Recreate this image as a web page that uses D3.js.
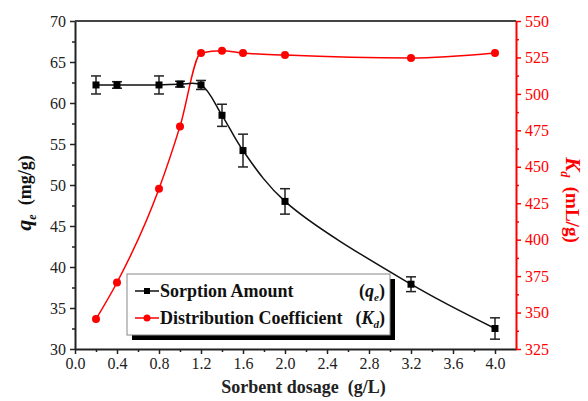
<!DOCTYPE html>
<html>
<head>
<meta charset="utf-8">
<script src="https://cdn.jsdelivr.net/npm/d3@7"></script>
<style>
  body { margin: 0; background: #fff; }
</style>
</head>
<body>
<script>
// data
var dosage = [0.2, 0.4, 0.8, 1.0, 1.2, 1.4, 1.6, 2.0, 3.2, 4.0];
var qe = [62.2, 62.2, 62.2, 62.3, 62.2, 58.5, 54.2, 48.0, 37.9, 32.5];
var qeErr = [1.1, 0.4, 1.1, 0.35, 0.55, 1.35, 2.0, 1.55, 0.9, 1.3];
var kd = [345.5, 370.6, 434.9, 477.7, 528.0, 529.6, 528.0, 526.6, 524.6, 528.0];
var xTicks = [0.0, 0.4, 0.8, 1.2, 1.6, 2.0, 2.4, 2.8, 3.2, 3.6, 4.0];
var leftTicks = [30, 35, 40, 45, 50, 55, 60, 65, 70];
var rightTicks = [325, 350, 375, 400, 425, 450, 475, 500, 525, 550];

var width = 588, height = 401;
var margin = {left: 75, right: 72, top: 21, bottom: 52};
var red = '#ff0000';
var serif = '"Liberation Serif", "Times New Roman", Times, Tinos, "DejaVu Serif", "Noto Serif", FreeSerif, serif';

var svg = d3.select('body').append('svg').attr('width', width).attr('height', height)
  .attr('font-family', serif);

var x = d3.scaleLinear().domain([0, 4.2]).range([margin.left, width - margin.right]);
var yL = d3.scaleLinear().domain([30, 70]).range([height - margin.bottom, margin.top]);
var yR = d3.scaleLinear().domain([325, 550]).range([height - margin.bottom, margin.top]);

var x0 = margin.left, x1 = width - margin.right, y0 = height - margin.bottom, y1 = margin.top;

// minor ticks
function minor(g, color) {
  g.select('.domain').remove();
  g.selectAll('line').attr('stroke', color).attr('stroke-width', 1.5);
}
svg.append('g').attr('transform', 'translate(0,' + y0 + ')')
  .call(d3.axisBottom(x).tickValues(d3.range(0.2, 4.2, 0.4)).tickSize(3).tickFormat(''))
  .call(minor, '#222');
svg.append('g').attr('transform', 'translate(' + x0 + ',0)')
  .call(d3.axisLeft(yL).tickValues(d3.range(32.5, 70, 5)).tickSize(3).tickFormat(''))
  .call(minor, '#222');
svg.append('g').attr('transform', 'translate(' + x1 + ',0)')
  .call(d3.axisRight(yR).tickValues(d3.range(337.5, 550, 25)).tickSize(3).tickFormat(''))
  .call(minor, red);

// major axes
function major(g, color) {
  g.attr('font-family', serif);
  g.select('.domain').attr('stroke', color).attr('stroke-width', 2);
  g.selectAll('.tick line').attr('stroke', color).attr('stroke-width', 1.5);
  g.selectAll('text').attr('font-size', 16).attr('fill', color === red ? red : '#222');
}
svg.append('g').attr('transform', 'translate(0,' + y0 + ')')
  .call(d3.axisBottom(x).tickValues(xTicks).tickSize(5).tickSizeOuter(0).tickPadding(4).tickFormat(d3.format('.1f')))
  .call(major, '#222');
svg.append('g').attr('transform', 'translate(' + x0 + ',0)')
  .call(d3.axisLeft(yL).tickValues(leftTicks).tickSize(5).tickSizeOuter(0).tickPadding(4))
  .call(major, '#222');
svg.append('g').attr('transform', 'translate(' + x1 + ',0)')
  .call(d3.axisRight(yR).tickValues(rightTicks).tickSize(5).tickSizeOuter(0).tickPadding(4))
  .call(major, red);

// top border
svg.append('line').attr('x1', x0).attr('x2', x1).attr('y1', y1).attr('y2', y1)
  .attr('stroke', '#444').attr('stroke-width', 2);

// Kd curve
var kdPts = dosage.map(function (d, i) { return [d, kd[i]]; });
svg.append('path').datum(kdPts)
  .attr('d', d3.line().x(function (d) { return x(d[0]); }).y(function (d) { return yR(d[1]); }).curve(d3.curveMonotoneX))
  .attr('fill', 'none').attr('stroke', red).attr('stroke-width', 1.5);
svg.selectAll('.kd').data(kdPts).enter().append('circle')
  .attr('cx', function (d) { return x(d[0]); })
  .attr('cy', function (d) { return yR(d[1]); })
  .attr('r', 4).attr('fill', red);

// qe curve
var qePts = dosage.map(function (d, i) { return [d, qe[i], qeErr[i]]; });
svg.append('path').datum(qePts)
  .attr('d', d3.line().x(function (d) { return x(d[0]); }).y(function (d) { return yL(d[1]); }).curve(d3.curveCatmullRom.alpha(0.5)))
  .attr('fill', 'none').attr('stroke', '#111').attr('stroke-width', 1.5);

var eb = svg.selectAll('.eb').data(qePts).enter().append('g').attr('stroke', '#222').attr('stroke-width', 1.5);
eb.append('line')
  .attr('x1', function (d) { return x(d[0]); }).attr('x2', function (d) { return x(d[0]); })
  .attr('y1', function (d) { return yL(d[1] - d[2]); }).attr('y2', function (d) { return yL(d[1] + d[2]); });
eb.append('line')
  .attr('x1', function (d) { return x(d[0]) - 5; }).attr('x2', function (d) { return x(d[0]) + 5; })
  .attr('y1', function (d) { return yL(d[1] - d[2]); }).attr('y2', function (d) { return yL(d[1] - d[2]); });
eb.append('line')
  .attr('x1', function (d) { return x(d[0]) - 5; }).attr('x2', function (d) { return x(d[0]) + 5; })
  .attr('y1', function (d) { return yL(d[1] + d[2]); }).attr('y2', function (d) { return yL(d[1] + d[2]); });
svg.selectAll('.qe').data(qePts).enter().append('rect')
  .attr('x', function (d) { return x(d[0]) - 3.5; })
  .attr('y', function (d) { return yL(d[1]) - 3.5; })
  .attr('width', 7).attr('height', 7).attr('fill', '#000');

// legend
var lg = svg.append('g').attr('transform', 'translate(127,274)');
lg.append('rect').attr('x', 5).attr('y', 5).attr('width', 263).attr('height', 61).attr('fill', '#000');
lg.append('rect').attr('x', 0).attr('y', 0).attr('width', 263).attr('height', 61)
  .attr('fill', '#fff').attr('stroke', '#888').attr('stroke-width', 1);
lg.append('line').attr('x1', 8).attr('x2', 32).attr('y1', 17).attr('y2', 17).attr('stroke', '#111').attr('stroke-width', 1.5);
lg.append('rect').attr('x', 17).attr('y', 14).attr('width', 6).attr('height', 6).attr('fill', '#000');
lg.append('line').attr('x1', 8).attr('x2', 32).attr('y1', 44).attr('y2', 44).attr('stroke', red).attr('stroke-width', 1.5);
lg.append('circle').attr('cx', 20).attr('cy', 44).attr('r', 3.5).attr('fill', red);

lg.append('text').attr('x', 33).attr('y', 23).attr('font-size', 18).attr('font-weight', 'bold').attr('fill', '#111').text('Sorption Amount');
lg.append('text').attr('x', 33).attr('y', 50).attr('font-size', 18).attr('font-weight', 'bold').attr('fill', '#111').text('Distribution Coefficient');
function sym(yy, main, sub) {
  var t = lg.append('text').attr('x', 258).attr('y', yy).attr('text-anchor', 'end')
    .attr('font-size', 18).attr('font-weight', 'bold').attr('fill', '#111');
  t.append('tspan').text('(');
  t.append('tspan').attr('font-style', 'italic').text(main);
  t.append('tspan').attr('font-size', 11).attr('font-style', 'italic').attr('dy', 4).text(sub);
  t.append('tspan').attr('dy', -4).text(')');
}
sym(23, 'q', 'e');
sym(50, 'K', 'd');

// axis titles
svg.append('text').attr('x', (x0 + x1) / 2 + 8).attr('y', 393).attr('text-anchor', 'middle')
  .attr('font-size', 18).attr('font-weight', 'bold').attr('fill', '#222')
  .attr('xml:space', 'preserve').text('Sorbent dosage  (g/L)');

var lt = svg.append('text').attr('transform', 'translate(31,193) rotate(-90)').attr('text-anchor', 'middle')
  .attr('font-size', 18).attr('font-weight', 'bold').attr('fill', '#111').attr('xml:space', 'preserve');
lt.append('tspan').attr('font-style', 'italic').attr('font-size', 22).text('q');
lt.append('tspan').attr('font-style', 'italic').attr('font-size', 12).attr('dy', 5).text('e');
lt.append('tspan').attr('dy', -5).text('  (mg/g)');

var rt = svg.append('text').attr('transform', 'translate(566,200) rotate(90)').attr('text-anchor', 'middle')
  .attr('font-size', 19).attr('font-weight', 'bold').attr('fill', red).attr('xml:space', 'preserve');
rt.append('tspan').attr('font-style', 'italic').attr('font-size', 21).text('K');
rt.append('tspan').attr('font-style', 'italic').attr('font-size', 12).attr('dy', 5).text('d');
rt.append('tspan').attr('dy', -5).text('  (mL/g)');
</script>
</body>
</html>
